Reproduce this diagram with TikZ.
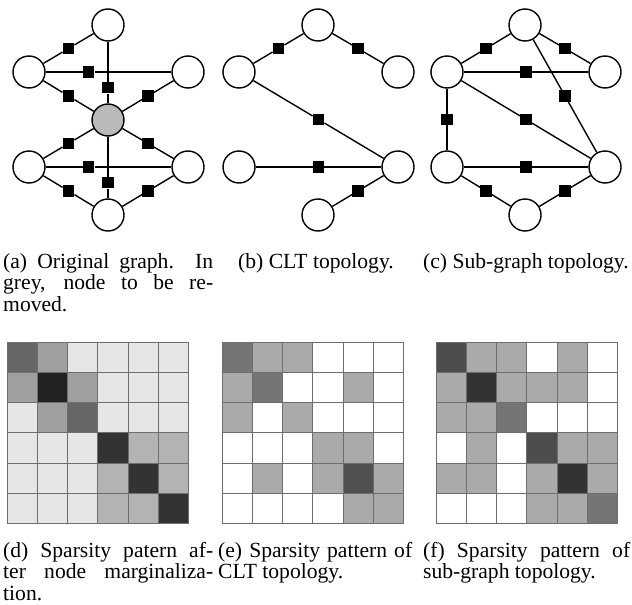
\documentclass[tikz,border=0pt]{standalone}
\usepackage{fontspec}
\setmainfont{Liberation Serif}
\usetikzlibrary{calc}
\definecolor{remgray}{RGB}{185,185,185}
\definecolor{gridc}{RGB}{110,110,110}
\newcommand{\capfont}{\fontsize{21.6}{21.5}\selectfont}
\newcommand{\jline}[2]{\makebox[#1][s]{#2}}
\newcommand{\spmatrix}[3]{%
  \foreach \v [count=\k from 0] in {#3} {
    \pgfmathtruncatemacro{\rr}{div(\k,6)}
    \pgfmathtruncatemacro{\cc}{mod(\k,6)}
    \definecolor{cellc}{RGB}{\v,\v,\v}
    \filldraw[fill=cellc, draw=gridc, line width=0.9pt]
      (#1+\cc*30.3, #2+\rr*30.3) rectangle ++(30.3,30.3);
  }
}
\begin{document}
\begin{tikzpicture}[x=1pt,y=-1pt,
  varnode/.style={circle,draw,line width=1.4pt,minimum size=32pt,inner sep=0pt,fill=white},
  remnode/.style={varnode,fill=remgray},
  facnode/.style={rectangle,fill=black,minimum size=11.5pt,inner sep=0pt},
  conn/.style={line width=1.4pt},
  captext/.style={font=\capfont,inner sep=0pt,align=left,anchor=base west}]
\useasboundingbox (0,0) rectangle (632,605);

% ---------- (a) original graph ----------
\node[varnode] (a1) at (108,25) {};
\node[varnode] (a2) at (29,72) {};
\node[varnode] (a3) at (188,72) {};
\node[remnode] (a4) at (108,120) {};
\node[varnode] (a5) at (29,167) {};
\node[varnode] (a6) at (188,167) {};
\node[varnode] (a7) at (108,215) {};
\node[facnode] (fa12) at ($(a1)!0.5!(a2)$) {};
\node[facnode] (fa23) at ($(a2)!0.375!(a3)$) {};
\node[facnode] (fa14) at ($(a1)!0.66!(a4)$) {};
\node[facnode] (fa24) at ($(a2)!0.5!(a4)$) {};
\node[facnode] (fa34) at ($(a3)!0.5!(a4)$) {};
\node[facnode] (fa45) at ($(a4)!0.5!(a5)$) {};
\node[facnode] (fa46) at ($(a4)!0.5!(a6)$) {};
\node[facnode] (fa56) at ($(a5)!0.375!(a6)$) {};
\node[facnode] (fa47) at ($(a4)!0.66!(a7)$) {};
\node[facnode] (fa57) at ($(a5)!0.5!(a7)$) {};
\node[facnode] (fa67) at ($(a6)!0.5!(a7)$) {};
\draw[conn] (a2) -- (fa12) -- (a1);
\draw[conn] (a2) -- (fa23) -- (a3);
\draw[conn] (a1) -- (fa14) -- (a4);
\draw[conn] (a2) -- (fa24) -- (a4);
\draw[conn] (a3) -- (fa34) -- (a4);
\draw[conn] (a4) -- (fa45) -- (a5);
\draw[conn] (a4) -- (fa46) -- (a6);
\draw[conn] (a5) -- (fa56) -- (a6);
\draw[conn] (a4) -- (fa47) -- (a7);
\draw[conn] (a5) -- (fa57) -- (a7);
\draw[conn] (a6) -- (fa67) -- (a7);

% ---------- (b) CLT topology ----------
\node[varnode] (b1) at (318,25) {};
\node[varnode] (b2) at (239,72) {};
\node[varnode] (b3) at (398,72) {};
\node[varnode] (b5) at (239,167) {};
\node[varnode] (b6) at (398,167) {};
\node[varnode] (b7) at (318,215) {};
\node[facnode] (fb12) at ($(b1)!0.5!(b2)$) {};
\node[facnode] (fb13) at ($(b1)!0.5!(b3)$) {};
\node[facnode] (fb26) at ($(b2)!0.5!(b6)$) {};
\node[facnode] (fb56) at ($(b5)!0.5!(b6)$) {};
\node[facnode] (fb67) at ($(b6)!0.5!(b7)$) {};
\draw[conn] (b2) -- (fb12) -- (b1);
\draw[conn] (b1) -- (fb13) -- (b3);
\draw[conn] (b2) -- (fb26) -- (b6);
\draw[conn] (b5) -- (fb56) -- (b6);
\draw[conn] (b6) -- (fb67) -- (b7);

% ---------- (c) sub-graph topology ----------
\node[varnode] (c1) at (525,25) {};
\node[varnode] (c2) at (447,72) {};
\node[varnode] (c3) at (605,72) {};
\node[varnode] (c5) at (447,167) {};
\node[varnode] (c6) at (605,167) {};
\node[varnode] (c7) at (525,215) {};
\node[facnode] (fc12) at ($(c1)!0.5!(c2)$) {};
\node[facnode] (fc13) at ($(c1)!0.5!(c3)$) {};
\node[facnode] (fc23) at ($(c2)!0.5!(c3)$) {};
\node[facnode] (fc16) at ($(c1)!0.5!(c6)$) {};
\node[facnode] (fc26) at ($(c2)!0.5!(c6)$) {};
\node[facnode] (fc25) at ($(c2)!0.5!(c5)$) {};
\node[facnode] (fc56) at ($(c5)!0.5!(c6)$) {};
\node[facnode] (fc57) at ($(c5)!0.5!(c7)$) {};
\node[facnode] (fc67) at ($(c6)!0.5!(c7)$) {};
\draw[conn] (c2) -- (fc12) -- (c1);
\draw[conn] (c1) -- (fc13) -- (c3);
\draw[conn] (c2) -- (fc23) -- (c3);
\draw[conn] (c1) -- (fc16) -- (c6);
\draw[conn] (c2) -- (fc26) -- (c6);
\draw[conn] (c2) -- (fc25) -- (c5);
\draw[conn] (c5) -- (fc56) -- (c6);
\draw[conn] (c5) -- (fc57) -- (c7);
\draw[conn] (c6) -- (fc67) -- (c7);

% ---------- top captions (anchor = baseline of last line) ----------
\node[captext] (capa) at (3,311) {\jline{210pt}{(a) Original graph. In}\\\jline{210pt}{grey, node to be re-}\\moved.};
\node[captext] (capb) at (238,268) {(b) CLT topology.};
\node[captext] (capc) at (423,268) {(c) Sub-graph topology.};

% ---------- sparsity matrices ----------
\spmatrix{7}{342}{102,160,230,230,230,230,
  160,34,160,230,230,230,
  230,160,102,230,230,230,
  230,230,230,51,179,179,
  230,230,230,179,51,179,
  230,230,230,179,179,51}
\spmatrix{222}{342}{117,170,170,255,255,255,
  170,117,255,255,170,255,
  170,255,170,255,255,255,
  255,255,255,170,170,255,
  255,170,255,170,80,170,
  255,255,255,255,170,170}
\spmatrix{436}{342}{77,170,170,255,170,255,
  170,51,170,170,170,255,
  170,170,117,255,255,255,
  255,170,255,77,170,170,
  170,170,255,170,51,170,
  255,255,255,170,170,117}

% ---------- bottom captions ----------
\node[captext] (capd) at (3,600) {\jline{210pt}{(d) Sparsity patern af-}\\\jline{210pt}{ter node marginaliza-}\\tion.};
\node[captext] (cape) at (218,578.5) {\jline{194pt}{(e) Sparsity pattern of}\\CLT topology.};
\node[captext] (capf) at (423,578.5) {\jline{207pt}{(f) Sparsity pattern of}\\sub-graph topology.};
\end{tikzpicture}
\end{document}
